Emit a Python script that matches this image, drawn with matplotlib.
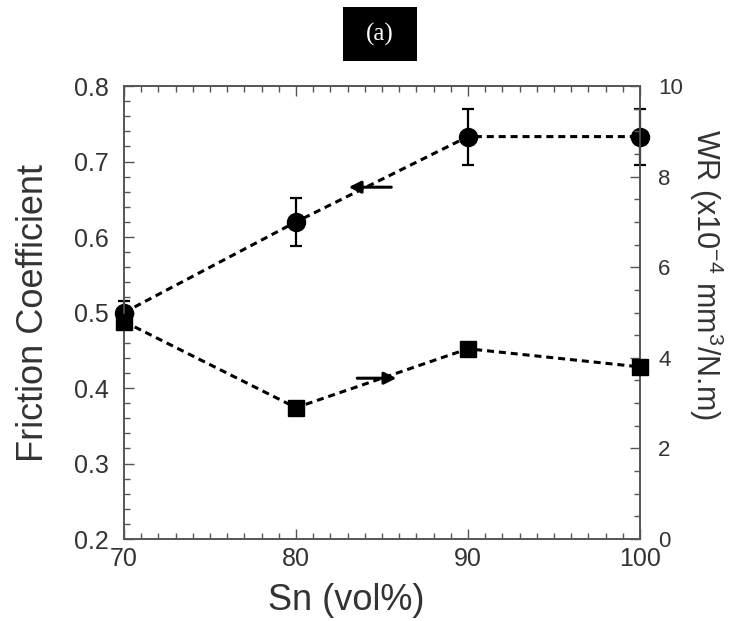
import matplotlib.pyplot as plt
from matplotlib.patches import Rectangle
from matplotlib.ticker import MultipleLocator

plt.rcParams['font.family'] = ['Liberation Sans', 'DejaVu Sans']
plt.rcParams['mathtext.fontset'] = 'custom'
plt.rcParams['mathtext.rm'] = 'Liberation Sans'

sn = [70, 80, 90, 100]
friction = [0.50, 0.62, 0.733, 0.733]
friction_err = [0.015, 0.032, 0.037, 0.037]
wear_rate = [4.8, 2.9, 4.2, 3.8]

fig = plt.figure(figsize=(7.32, 6.21), dpi=100)
ax = fig.add_axes([0.1694, 0.132, 0.7049, 0.7295])
ax2 = ax.twinx()

dash = (0, (2.3, 1.6))
ax.errorbar(sn, friction, yerr=friction_err, color='black', marker='o', markersize=13,
            linestyle=dash, linewidth=2.2, capsize=4, elinewidth=1.6, capthick=1.6,
            clip_on=False, zorder=5)
ax2.plot(sn, wear_rate, color='black', marker='s', markersize=12,
         linestyle=dash, linewidth=2.2, clip_on=False, zorder=5)

# arrows pointing to each axis
ax.annotate('', xy=(82.9, 0.666), xytext=(85.7, 0.666),
            arrowprops=dict(arrowstyle='-|>', color='black', lw=2.2, mutation_scale=18))
ax2.annotate('', xy=(86.0, 3.55), xytext=(83.4, 3.55),
             arrowprops=dict(arrowstyle='-|>', color='black', lw=2.2, mutation_scale=18))

ax.set_xlim(70, 100)
ax.set_ylim(0.2, 0.8)
ax2.set_ylim(0, 10)

ax.xaxis.set_major_locator(MultipleLocator(10))
ax.xaxis.set_minor_locator(MultipleLocator(1))
ax.yaxis.set_major_locator(MultipleLocator(0.1))
ax.yaxis.set_minor_locator(MultipleLocator(0.02))
ax2.yaxis.set_major_locator(MultipleLocator(2))
ax2.yaxis.set_minor_locator(MultipleLocator(0.5))

ax.tick_params(which='both', direction='in', top=True, right=False, labelsize=18,
               colors='#555555', labelcolor='#333333')
ax.tick_params(axis='y', pad=11)
ax.tick_params(axis='x', pad=6)
ax.tick_params(which='major', length=7, width=1)
ax.tick_params(which='minor', length=4, width=1)
ax2.tick_params(which='both', direction='in', labelsize=16, pad=13,
                colors='#555555', labelcolor='#333333')
ax2.tick_params(which='major', length=7, width=1)
ax2.tick_params(which='minor', length=4, width=1)
ax.yaxis.set_major_formatter(plt.FuncFormatter(lambda v, p: f'{v:.1f}'))

for a in (ax, ax2):
    for s in a.spines.values():
        s.set_color('#555555')
        s.set_linewidth(1.2)

ax.set_xlabel('Sn (vol%)', fontsize=26, color='#333333')
ax.xaxis.set_label_coords(0.43, -0.097)
ax.set_ylabel('Friction Coefficient', fontsize=26, color='#333333')
ax.yaxis.set_label_coords(-0.1415, 0.5)
ax2.set_ylabel('WR (x10$^{-4}$ mm$^{3}$/N.m)', fontsize=22, color='#333333',
               rotation=-90, va='bottom')
ax2.yaxis.set_label_coords(1.091, 0.583)

# "(a)" panel tag in a black box
fig.add_artist(Rectangle((0.4686, 0.9018), 0.1011, 0.0869, transform=fig.transFigure,
                         facecolor='black', edgecolor='none'))
fig.text(0.5191, 0.9452, '(a)', ha='center', va='center', color='white', fontsize=18,
         family='Liberation Serif')

fig.savefig('out.png', dpi=100)
